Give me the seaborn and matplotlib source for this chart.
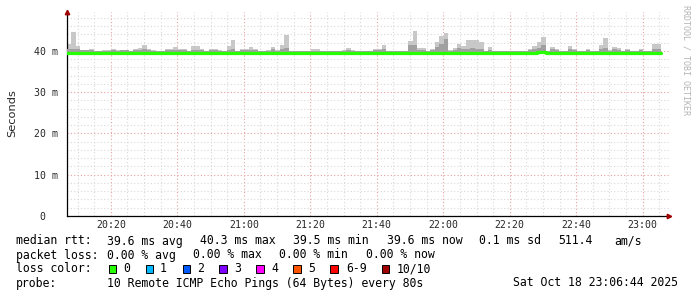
import numpy as np
import pandas as pd
import matplotlib
matplotlib.use("Agg")
import matplotlib.pyplot as plt
import seaborn as sns
from matplotlib.ticker import MultipleLocator, FixedLocator, FuncFormatter

# ---------------- data ----------------
step_s = 80
start_min = 6.8          # minutes after 20:00 of the first step
smoke_top = [41.75, 44.7, 41.2, 40.3, 40.3, 40.5, 40.1, 40.1, 40.3, 40.3,
             40.5, 40.3, 40.3, 40.3, 40.1, 40.5, 40.8, 41.4, 40.5, 40.3,
             40.1, 40.1, 40.5, 40.5, 40.9, 40.5, 40.5, 40.1, 41.3, 41.3,
             40.5, 40.0, 40.5, 40.5, 40.2, 40.1, 41.2, 42.7, 40.1, 40.4,
             40.6, 40.9, 40.5, 40.1, 40.1, 40.2, 40.9, 40.2, 41.4, 43.9,
             40.1, 40.1, 40.0, 40.0, 40.0, 40.5, 40.5, 40.1, 40.0, 40.0,
             40.0, 40.0, 40.2, 40.8, 40.2, 40.1, 40.1, 40.0, 40.0, 40.6,
             40.6, 41.4, 40.1, 40.0, 40.0, 40.0, 40.0, 42.4, 44.8, 40.8,
             40.8, 40.0, 40.5, 42.2, 43.6, 44.4, 40.3, 40.8, 41.7, 41.3,
             42.7, 42.7, 42.7, 42.1, 40.1, 40.9, 40.0, 40.0, 40.0, 40.0,
             40.0, 40.0, 40.1, 40.1, 40.5, 41.2, 42.2, 43.5, 40.1, 40.9,
             40.6, 40.0, 40.0, 41.2, 40.5, 40.0, 40.0, 40.5, 40.0, 40.0,
             41.4, 43.2, 40.2, 40.9, 40.8, 40.0, 40.6, 40.0, 40.0, 40.5,
             40.0, 40.0, 41.8, 41.8]
smoke_mid = [40.4, 40.6, 40.4, 40.2, 40.2, 40.3, 40.0, 40.0, 40.1, 40.1,
             40.2, 40.1, 40.2, 40.2, 40.0, 40.2, 40.3, 40.6, 40.2, 40.1,
             40.0, 40.0, 40.2, 40.2, 40.3, 40.2, 40.2, 40.0, 40.3, 40.3,
             40.2, 40.0, 40.2, 40.2, 40.1, 40.0, 40.3, 40.4, 40.0, 40.3,
             40.3, 40.3, 40.2, 40.0, 40.0, 40.1, 40.5, 40.1, 40.5, 40.8,
             40.0, 40.0, 40.0, 40.0, 40.0, 40.1, 40.1, 40.0, 40.0, 40.0,
             40.0, 40.0, 40.1, 40.3, 40.1, 40.0, 40.0, 40.0, 40.0, 40.2,
             40.2, 40.5, 40.0, 40.0, 40.0, 40.0, 40.0, 41.4, 41.4, 40.3,
             40.3, 40.0, 40.2, 41.0, 41.6, 43.0, 40.1, 40.3, 40.8, 40.6,
             40.6, 40.7, 40.6, 40.4, 40.0, 40.3, 40.0, 40.0, 40.0, 40.0,
             40.0, 40.0, 40.0, 40.0, 40.2, 40.4, 40.7, 41.4, 40.0, 40.4,
             40.2, 40.0, 40.0, 40.4, 40.2, 40.0, 40.0, 40.2, 40.0, 40.0,
             40.5, 40.7, 40.1, 40.5, 40.3, 40.0, 40.2, 40.0, 40.0, 40.2,
             40.0, 40.0, 40.5, 40.5]
median_rtt = [39.6, 39.6, 39.6, 39.6, 39.6, 39.6, 39.4, 39.4, 39.6, 39.6,
              39.6, 39.6, 39.4, 39.4, 39.6, 39.6, 39.6, 39.6, 39.6, 39.4,
              39.6, 39.6, 39.6, 39.6, 39.6, 39.6, 39.6, 39.6, 39.6, 39.6,
              39.4, 39.4, 39.6, 39.6, 39.6, 39.6, 39.6, 39.6, 39.6, 39.4,
              39.6, 39.6, 39.6, 39.6, 39.6, 39.6, 39.4, 39.6, 39.6, 39.6,
              39.4, 39.6, 39.4, 39.6, 39.6, 39.6, 39.6, 39.6, 39.4, 39.6,
              39.6, 39.6, 39.6, 39.6, 39.6, 39.6, 39.6, 39.6, 39.6, 39.6,
              39.6, 39.6, 39.4, 39.6, 39.6, 39.6, 39.6, 39.6, 39.6, 39.4,
              39.4, 39.6, 39.6, 39.6, 39.6, 39.6, 39.6, 39.4, 39.4, 39.4,
              39.6, 39.6, 39.6, 39.6, 39.6, 39.6, 39.6, 39.6, 39.6, 39.6,
              39.6, 39.4, 39.4, 39.6, 39.6, 39.6, 39.75, 39.75, 39.4, 39.4,
              39.6, 39.6, 39.6, 39.4, 39.6, 39.6, 39.6, 39.6, 39.6, 39.6,
              39.6, 39.6, 39.6, 39.6, 39.6, 39.6, 39.6, 39.6, 39.6, 39.6,
              39.4, 39.6, 39.6, 39.6]
time_ticks = [20, 40, 60, 80, 100, 120, 140, 160, 180]
y_ticks = [0, 10, 20, 30, 40]
y_tick_labels = ["0  ", "10 m", "20 m", "30 m", "40 m"]

loss_labels = ["0", "1", "2", "3", "4", "5", "6-9", "10/10"]
loss_colors = ["#26ff00", "#00b8ff", "#0059ff", "#7e00ff", "#ff00ff",
               "#ff5500", "#ff0000", "#a10000"]

# ---------------- figure ----------------
sns.set_theme(style="white")
plt.rcParams["font.family"] = ["DejaVu Sans"]
mono = "DejaVu Sans Mono"

W, H = 697, 297
fig = plt.figure(figsize=(W / 100, H / 100), dpi=100)
fig.patch.set_facecolor("white")
ax = fig.add_axes([67 / W, (H - 216) / H, (669 - 67) / W, (216 - 12) / H])
ax.set_facecolor("white")

n = len(smoke_top)
step_min = step_s / 60.0
t = start_min + np.arange(n + 1) * step_min
top_ext = np.append(smoke_top, smoke_top[-1])
mid_ext = np.append(smoke_mid, smoke_mid[-1])
med_ext = np.append(median_rtt, median_rtt[-1])
df = pd.DataFrame({"t": t, "median": med_ext})

ax.fill_between(t, 39.6, top_ext, step="post", color="#c8c8c8", lw=0, zorder=2)
ax.fill_between(t, 39.6, mid_ext, step="post", color="#a0a0a0", lw=0, zorder=3)
sns.lineplot(data=df, x="t", y="median", drawstyle="steps-post",
             color="#26ff00", linewidth=2.3, ax=ax, zorder=4)

ax.set_xlim(6.8, 187.9)
ax.set_ylim(0, 49.45)

ax.xaxis.set_major_locator(FixedLocator(time_ticks))
ax.xaxis.set_minor_locator(MultipleLocator(5))
ax.xaxis.set_major_formatter(FuncFormatter(
    lambda v, p: f"{20 + int(round(v)) // 60}:{int(round(v)) % 60:02d}"))
ax.yaxis.set_major_locator(FixedLocator(y_ticks))
ax.yaxis.set_minor_locator(MultipleLocator(2))
ax.set_yticklabels(y_tick_labels)

ax.grid(which="minor", color="#d8d8d8", linestyle=(0, (1, 2)), linewidth=0.8)
ax.grid(which="major", color="#e8a0a0", linestyle=(0, (1, 2)), linewidth=0.8)
ax.set_axisbelow(True)

for s in ["top", "right"]:
    ax.spines[s].set_visible(False)
for s in ["left", "bottom"]:
    ax.spines[s].set_color("black")
    ax.spines[s].set_linewidth(0.9)

ax.tick_params(axis="x", which="both", length=0, pad=3, labelsize=7.1)
ax.tick_params(axis="y", which="major", length=2.5, width=0.7, color="black",
               pad=4, labelsize=7.1)
ax.tick_params(axis="y", which="minor", length=1.5, width=0.6, color="#888888")
for lab in ax.get_xticklabels() + ax.get_yticklabels():
    lab.set_fontfamily(mono)
ax.set_xlabel("")
ax.set_ylabel("Seconds", fontsize=8.2, labelpad=0)
ax.yaxis.set_label_coords(-(67 - 17) / (669 - 67), (216 - 113) / (216 - 12))

# axis arrows
ax.plot([0], [1.0], marker="^", color="#a00000", markersize=3.2, clip_on=False,
        transform=ax.transAxes, zorder=6)
ax.plot([1.0], [0], marker=">", color="#a00000", markersize=3.2, clip_on=False,
        transform=ax.transAxes, zorder=6)

# right side credit
fig.text(686 / W, 1 - 5 / H, "RRDTOOL / TOBI OETIKER", rotation=-90,
         fontsize=6, family=mono, color="#b4b4b4", ha="center", va="top")

# legend / stats lines
def px(x, y, s, **kw):
    fig.text(x / W, 1 - y / H, s, fontsize=8.3, family=mono, va="center",
             ha="left", color="black", **kw)

y1, y2, y3, y4 = 241, 255, 269, 283
px(16, y1, "median rtt:")
for x, s in [(107, "39.6 ms avg"), (200, "40.3 ms max"), (293, "39.5 ms min"),
             (386.5, "39.6 ms now"), (479, "0.1 ms sd"), (558, "511.4"),
             (614, "am/s")]:
    px(x, y1, s)
px(16, y2, "packet loss:")
for x, s in [(107, "0.00 % avg"), (193, "0.00 % max"), (279, "0.00 % min"),
             (365.5, "0.00 % now")]:
    px(x, y2, s)
px(16, y3, "loss color:")
sq_x = [108.5, 145.5, 182.5, 219, 256, 293, 330, 381.5]
lb_x = [123, 160, 197, 234, 271.5, 308, 346.5, 396.5]
for sx, lx, lab, col in zip(sq_x, lb_x, loss_labels, loss_colors):
    fig.patches.append(plt.Rectangle((sx / W, 1 - (y3 + 4) / H), 7.5 / W, 8 / H,
                                     transform=fig.transFigure, facecolor=col,
                                     edgecolor="black", linewidth=0.7))
    px(lx, y3, lab)
px(16, y4, "probe:")
px(107, y4, "10 Remote ICMP Echo Pings (64 Bytes) every 80s")
px(513, y4, "Sat Oct 18 23:06:44 2025")

fig.savefig("out.png", dpi=100, facecolor="white")
